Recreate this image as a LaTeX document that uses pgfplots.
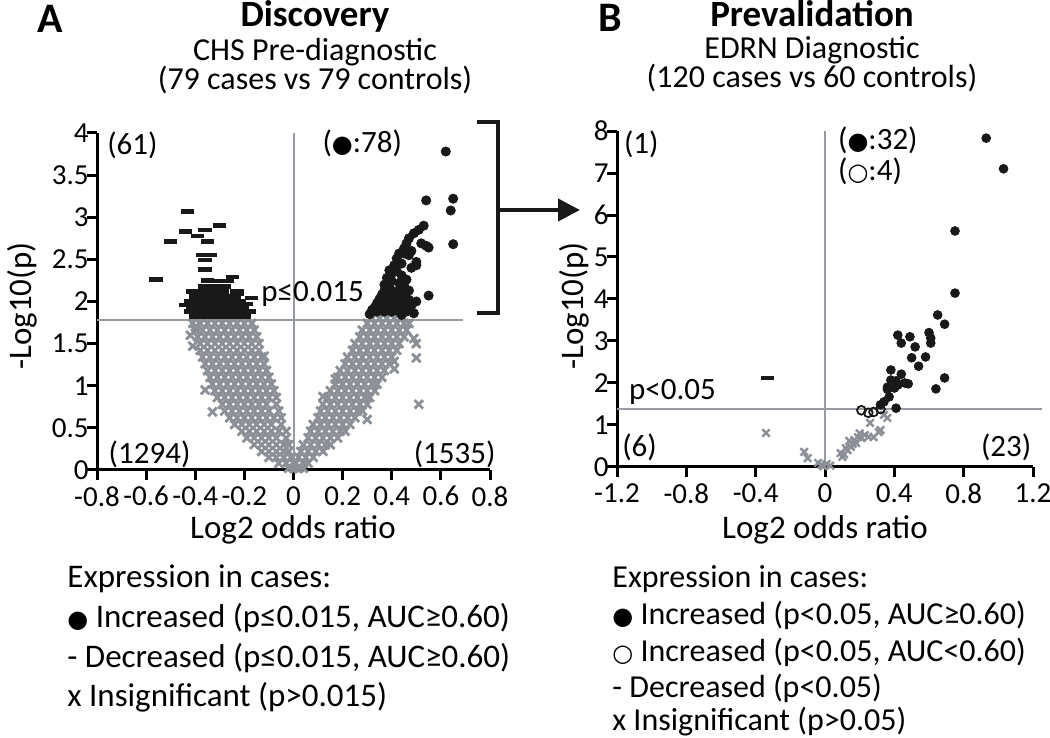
\documentclass[border=0pt]{standalone}
\usepackage{fontspec}
\setmainfont{Carlito}
\newfontfamily\sym{DejaVu Sans}
\usepackage{pgfplots}
\pgfplotsset{compat=1.18}
\usetikzlibrary{arrows.meta}
\definecolor{gmark}{RGB}{138,144,150}
\definecolor{gline}{RGB}{150,156,162}
\definecolor{dk}{RGB}{25,25,25}
\newcommand{\fs}[1]{\fontsize{#1}{#1}\selectfont}
\newcommand{\bdot}{{\sym\fontsize{12}{12}\selectfont ●}}
\newcommand{\wdot}{{\sym\fontsize{12}{12}\selectfont ○}}
\pgfplotsset{
 volc/.style={
  scale only axis, axis lines=left,
  axis line style={-, line width=1.5pt, black},
  tick align=outside, major tick length=5pt,
  tick style={line width=1.5pt, black},
  tick label style={font=\fs{14.5}},
  xticklabel style={inner sep=0.5pt, yshift=-2.5pt},
  yticklabel style={inner sep=0.5pt, xshift=1.5pt},
  clip=false, anchor=south west,
 },
 gx/.style={only marks, mark=x, mark size=3pt, gmark, mark options={line width=1.4pt}},
 bd/.style={only marks, mark=*, mark size=2.3pt, dk},
 bdash/.style={only marks, mark=-, mark size=3.3pt, dk, mark options={line width=2.2pt}},
}
\begin{document}
\begin{tikzpicture}
\path[use as bounding box] (0,0) rectangle (525pt,369pt);
% ---------------- Panel A ----------------
\begin{axis}[volc, at={(48.5pt,134pt)}, width=196.5pt, height=168.5pt,
 xmin=-0.8, xmax=0.8, ymin=0, ymax=4,
 xtick={-0.8,-0.6,-0.4,-0.2,0,0.2,0.4,0.6,0.8},
 xticklabels={-0.8,-0.6,-0.4,-0.2,0,0.2,0.4,0.6,0.8},
 ytick={0,0.5,1,1.5,2,2.5,3,3.5,4},
 yticklabels={0,0.5,1,1.5,2,2.5,3,3.5,4}]
\addplot[gline, line width=1pt] coordinates {(0,0) (0,4)};
\addplot[gline, line width=1pt] coordinates {(-0.8,1.78) (0.69,1.78)};
% insignificant, left
\addplot[gx] coordinates {
(0,0.02)(-0.02,0.02)(0.02,0.02)
(-0.06,0.08)(-0.03,0.08)(0,0.08)
(-0.10,0.15)(-0.07,0.15)(-0.04,0.15)(-0.01,0.15)
(-0.13,0.22)(-0.10,0.22)(-0.07,0.22)(-0.04,0.22)(-0.02,0.22)
(-0.16,0.30)(-0.13,0.30)(-0.10,0.30)(-0.07,0.30)(-0.04,0.30)(-0.02,0.30)
(-0.19,0.38)(-0.16,0.38)(-0.13,0.38)(-0.10,0.38)(-0.07,0.38)(-0.03,0.38)
(-0.21,0.46)(-0.18,0.46)(-0.15,0.46)(-0.12,0.46)(-0.09,0.46)(-0.06,0.46)(-0.03,0.46)
(-0.24,0.54)(-0.21,0.54)(-0.18,0.54)(-0.15,0.54)(-0.12,0.54)(-0.09,0.54)(-0.05,0.54)
(-0.26,0.62)(-0.23,0.62)(-0.20,0.62)(-0.17,0.62)(-0.14,0.62)(-0.11,0.62)(-0.08,0.62)(-0.05,0.62)
(-0.28,0.70)(-0.25,0.70)(-0.22,0.70)(-0.19,0.70)(-0.16,0.70)(-0.13,0.70)(-0.10,0.70)(-0.06,0.70)
(-0.29,0.78)(-0.26,0.78)(-0.23,0.78)(-0.20,0.78)(-0.17,0.78)(-0.14,0.78)(-0.11,0.78)(-0.07,0.78)
(-0.31,0.86)(-0.28,0.86)(-0.25,0.86)(-0.22,0.86)(-0.19,0.86)(-0.16,0.86)(-0.13,0.86)(-0.10,0.86)(-0.07,0.86)
(-0.32,0.94)(-0.29,0.94)(-0.26,0.94)(-0.23,0.94)(-0.20,0.94)(-0.17,0.94)(-0.14,0.94)(-0.11,0.94)(-0.08,0.94)
(-0.33,1.02)(-0.30,1.02)(-0.27,1.02)(-0.24,1.02)(-0.21,1.02)(-0.18,1.02)(-0.15,1.02)(-0.12,1.02)(-0.09,1.02)
(-0.34,1.10)(-0.31,1.10)(-0.28,1.10)(-0.25,1.10)(-0.22,1.10)(-0.19,1.10)(-0.16,1.10)(-0.13,1.10)(-0.10,1.10)
(-0.35,1.18)(-0.32,1.18)(-0.29,1.18)(-0.26,1.18)(-0.23,1.18)(-0.20,1.18)(-0.17,1.18)(-0.14,1.18)(-0.11,1.18)
(-0.36,1.26)(-0.33,1.26)(-0.30,1.26)(-0.27,1.26)(-0.24,1.26)(-0.21,1.26)(-0.18,1.26)(-0.15,1.26)(-0.12,1.26)
(-0.37,1.34)(-0.34,1.34)(-0.31,1.34)(-0.28,1.34)(-0.25,1.34)(-0.22,1.34)(-0.19,1.34)(-0.16,1.34)(-0.13,1.34)
(-0.38,1.42)(-0.35,1.42)(-0.32,1.42)(-0.29,1.42)(-0.26,1.42)(-0.23,1.42)(-0.20,1.42)(-0.17,1.42)(-0.14,1.42)
(-0.38,1.50)(-0.35,1.50)(-0.32,1.50)(-0.29,1.50)(-0.26,1.50)(-0.23,1.50)(-0.20,1.50)(-0.17,1.50)(-0.14,1.50)
(-0.39,1.58)(-0.36,1.58)(-0.33,1.58)(-0.30,1.58)(-0.27,1.58)(-0.24,1.58)(-0.21,1.58)(-0.18,1.58)(-0.15,1.58)
(-0.40,1.66)(-0.37,1.66)(-0.34,1.66)(-0.31,1.66)(-0.28,1.66)(-0.25,1.66)(-0.22,1.66)(-0.19,1.66)(-0.16,1.66)
(-0.41,1.74)(-0.38,1.74)(-0.35,1.74)(-0.32,1.74)(-0.29,1.74)(-0.26,1.74)(-0.23,1.74)(-0.20,1.74)(-0.17,1.74)
(-0.41,1.47)(-0.40,1.70)(-0.33,0.69)(-0.12,1.35)(-0.36,0.95)(-0.42,1.60)
};
% insignificant, right
\addplot[gx] coordinates {
(0.02,0.02)(0.04,0.02)
(0.01,0.08)(0.04,0.08)(0.06,0.08)
(0.02,0.15)(0.05,0.15)(0.08,0.15)
(0.03,0.22)(0.06,0.22)(0.09,0.22)(0.12,0.22)
(0.04,0.30)(0.07,0.30)(0.10,0.30)(0.13,0.30)(0.15,0.30)
(0.06,0.38)(0.09,0.38)(0.12,0.38)(0.15,0.38)(0.18,0.38)
(0.07,0.46)(0.10,0.46)(0.13,0.46)(0.16,0.46)(0.19,0.46)(0.21,0.46)
(0.08,0.54)(0.11,0.54)(0.14,0.54)(0.17,0.54)(0.20,0.54)(0.23,0.54)
(0.10,0.62)(0.13,0.62)(0.16,0.62)(0.19,0.62)(0.22,0.62)(0.25,0.62)
(0.11,0.70)(0.14,0.70)(0.17,0.70)(0.20,0.70)(0.23,0.70)(0.26,0.70)(0.28,0.70)
(0.12,0.78)(0.15,0.78)(0.18,0.78)(0.21,0.78)(0.24,0.78)(0.27,0.78)(0.30,0.78)
(0.14,0.86)(0.17,0.86)(0.20,0.86)(0.23,0.86)(0.26,0.86)(0.29,0.86)(0.31,0.86)
(0.15,0.94)(0.18,0.94)(0.21,0.94)(0.24,0.94)(0.27,0.94)(0.30,0.94)(0.33,0.94)
(0.17,1.02)(0.20,1.02)(0.23,1.02)(0.26,1.02)(0.29,1.02)(0.32,1.02)(0.34,1.02)
(0.18,1.10)(0.21,1.10)(0.24,1.10)(0.27,1.10)(0.30,1.10)(0.33,1.10)(0.36,1.10)
(0.19,1.18)(0.22,1.18)(0.25,1.18)(0.28,1.18)(0.31,1.18)(0.34,1.18)(0.37,1.18)
(0.21,1.26)(0.24,1.26)(0.27,1.26)(0.30,1.26)(0.33,1.26)(0.36,1.26)(0.39,1.26)
(0.22,1.34)(0.25,1.34)(0.28,1.34)(0.31,1.34)(0.34,1.34)(0.37,1.34)(0.40,1.34)
(0.24,1.42)(0.27,1.42)(0.30,1.42)(0.33,1.42)(0.36,1.42)(0.39,1.42)(0.42,1.42)
(0.25,1.50)(0.28,1.50)(0.31,1.50)(0.34,1.50)(0.37,1.50)(0.40,1.50)(0.43,1.50)
(0.27,1.58)(0.30,1.58)(0.33,1.58)(0.36,1.58)(0.39,1.58)(0.42,1.58)(0.45,1.58)
(0.28,1.66)(0.31,1.66)(0.34,1.66)(0.37,1.66)(0.40,1.66)(0.43,1.66)(0.46,1.66)
(0.30,1.74)(0.33,1.74)(0.36,1.74)(0.39,1.74)(0.42,1.74)(0.45,1.74)(0.47,1.74)
(0.32,1.80)(0.35,1.80)(0.38,1.80)(0.41,1.80)(0.44,1.80)
(0.12,0.87)(0.17,1.08)(0.49,1.56)(0.50,1.50)(0.50,1.33)(0.41,1.29)(0.41,1.20)(0.51,0.78)(0.30,0.60)
};
% decreased (dashes)
\addplot[bdash] coordinates {
(-0.43,3.07)(-0.44,2.83)(-0.50,2.71)(-0.36,2.85)(-0.30,2.90)(-0.39,2.78)(-0.35,2.71)
(-0.37,2.55)(-0.34,2.55)(-0.36,2.49)(-0.36,2.38)(-0.56,2.26)(-0.35,2.25)(-0.31,2.24)
(-0.25,2.29)(-0.27,2.24)(-0.23,2.12)(-0.17,2.04)(-0.41,2.12)
(-0.40,1.82)(-0.36,1.82)(-0.32,1.82)(-0.28,1.82)(-0.24,1.82)(-0.20,1.82)
(-0.42,1.88)(-0.38,1.88)(-0.34,1.88)(-0.30,1.88)(-0.26,1.88)(-0.22,1.88)(-0.18,1.88)
(-0.41,1.94)(-0.37,1.94)(-0.33,1.94)(-0.29,1.94)(-0.25,1.94)(-0.21,1.94)
(-0.42,2.00)(-0.38,2.00)(-0.34,2.00)(-0.30,2.00)(-0.26,2.00)(-0.22,2.00)
(-0.40,2.06)(-0.36,2.06)(-0.32,2.06)(-0.28,2.06)(-0.24,2.06)
(-0.37,2.12)(-0.33,2.12)(-0.29,2.12)
(-0.36,2.18)(-0.32,2.18)(-0.28,2.18)
(-0.35,1.85)(-0.27,1.91)(-0.31,2.03)(-0.19,1.97)(-0.44,1.96)(-0.23,2.09)
};
% increased (dots)
\addplot[bd] coordinates {
(0.62,3.78)(0.54,3.20)(0.65,3.22)(0.64,3.08)(0.65,2.68)(0.53,2.90)
(0.51,2.85)(0.49,2.81)(0.47,2.75)(0.46,2.69)(0.45,2.63)(0.43,2.57)(0.42,2.51)
(0.54,2.66)(0.55,2.64)(0.52,2.69)(0.47,2.55)(0.45,2.57)(0.50,2.43)(0.50,2.47)
(0.41,2.43)(0.39,2.37)(0.42,2.36)(0.44,2.31)(0.38,2.28)(0.40,2.24)(0.43,2.22)
(0.45,2.19)(0.47,2.13)(0.55,2.07)(0.38,2.12)(0.39,2.16)(0.49,1.86)
(0.34,1.88)(0.37,1.88)(0.40,1.88)(0.43,1.88)(0.46,1.88)
(0.33,1.93)(0.36,1.93)(0.39,1.93)(0.42,1.93)(0.45,1.93)
(0.34,1.98)(0.37,1.98)(0.40,1.98)(0.43,1.98)(0.46,1.98)
(0.35,2.03)(0.38,2.03)(0.41,2.03)(0.44,2.03)
(0.36,2.08)(0.39,2.08)(0.42,2.08)(0.45,2.08)
(0.37,2.13)(0.40,2.13)(0.43,2.13)
(0.48,2.40)(0.40,2.33)(0.44,2.45)(0.48,2.60)(0.32,1.90)(0.31,1.85)
(0.44,1.84)(0.47,2.02)(0.48,1.95)(0.50,2.00)(0.37,2.20)(0.46,2.26)
};
\node[anchor=base, font=\fs{15.5}] at (axis cs:-0.656,3.75) {(61)};
\node[anchor=base, font=\fs{15.5}] at (axis cs:0.28,3.77) {(\bdot:78)};
\node[anchor=base, font=\fs{15.5}] at (axis cs:-0.586,0.08) {(1294)};
\node[anchor=base, font=\fs{15.5}] at (axis cs:0.656,0.08) {(1535)};
\node[anchor=base, font=\fs{15.5}] at (axis cs:0.078,2.0) {p≤0.015};
\end{axis}
% ---------------- Panel B ----------------
\begin{axis}[volc, at={(308.5pt,135.5pt)}, width=208pt, height=168pt,
 xmin=-1.2, xmax=1.2, ymin=0, ymax=8,
 xtick={-1.2,-0.8,-0.4,0,0.4,0.8,1.2},
 xticklabels={-1.2,-0.8,-0.4,0,0.4,0.8,1.2},
 ytick={0,1,2,3,4,5,6,7,8},
 yticklabels={0,1,2,3,4,5,6,7,8}]
\addplot[gline, line width=1pt] coordinates {(0,0) (0,8)};
\addplot[gline, line width=1pt] coordinates {(-1.2,1.38) (1.25,1.38)};
\addplot[gx, mark size=2.6pt, mark options={line width=1.2pt}] coordinates {
(-0.34,0.81)(-0.12,0.36)(-0.10,0.21)(-0.04,0.10)(-0.02,0.05)(-0.01,0.02)
(0.01,0.07)(0.09,0.33)(0.10,0.24)(0.13,0.40)(0.15,0.48)(0.17,0.64)(0.19,0.71)
(0.21,0.69)(0.18,0.57)(0.23,0.76)(0.26,1.05)(0.28,0.71)(0.31,0.83)(0.32,0.88)
(0.36,1.17)(0.34,1.24)(0.12,0.45)(0.16,0.55)(0.20,0.80)(0.03,0.03)(0.11,0.30)
(0.14,0.62)(0.25,0.72)
};
\addplot[bdash] coordinates {(-0.33,2.12)};
\addplot[only marks, mark=o, mark size=2.2pt, dk, mark options={line width=0.9pt, fill=white}] coordinates {
(0.21,1.35)(0.25,1.29)(0.28,1.31)(0.32,1.38)
};
\addplot[bd, mark size=2.2pt] coordinates {
(0.93,7.83)(1.03,7.10)(0.75,5.62)(0.75,4.14)(0.65,3.62)(0.69,3.40)(0.42,3.14)
(0.44,2.95)(0.49,3.10)(0.52,2.86)(0.60,3.20)(0.61,3.07)(0.61,2.95)(0.50,2.60)
(0.54,2.40)(0.58,2.62)(0.38,2.31)(0.44,2.21)(0.69,2.12)(0.64,1.86)(0.38,2.07)
(0.41,2.05)(0.46,2.00)(0.48,1.98)(0.36,1.90)(0.36,1.85)(0.40,1.88)(0.42,1.95)
(0.37,1.67)(0.34,1.55)(0.32,1.48)(0.41,1.40)
};
\node[anchor=base, font=\fs{15.5}] at (axis cs:-1.06,7.47) {(1)};
\node[anchor=base west, font=\fs{15.5}] at (axis cs:0.035,7.55) {(\bdot:32)};
\node[anchor=base west, font=\fs{15.5}] at (axis cs:0.035,6.83) {(\wdot:4)};
\node[anchor=base, font=\fs{15.5}] at (axis cs:-0.88,1.6) {p<0.05};
\node[anchor=base, font=\fs{15.5}] at (axis cs:-1.07,0.24) {(6)};
\node[anchor=base, font=\fs{15.5}] at (axis cs:1.045,0.24) {(23)};
\end{axis}
% ---------------- titles and labels ----------------
\node[anchor=base, font=\fs{21}\bfseries] at (25pt,352.5pt) {A};
\node[anchor=base, font=\fs{18.5}\bfseries] at (157.5pt,355.5pt) {Discovery};
\node[anchor=base, font=\fs{16}, inner sep=0pt] at (157.5pt,338.5pt) {CHS Pre-diagnostic};
\node[anchor=base, font=\fs{16}, inner sep=0pt] at (157.5pt,324pt) {(79 cases vs 79 controls)};
\node[anchor=base, font=\fs{21}\bfseries] at (305pt,353pt) {B};
\node[anchor=base, font=\fs{18.5}\bfseries] at (406pt,355.5pt) {Prevalidation};
\node[anchor=base, font=\fs{16}, inner sep=0pt] at (406pt,339.5pt) {EDRN Diagnostic};
\node[anchor=base, font=\fs{16}, inner sep=0pt] at (406pt,325pt) {(120 cases vs 60 controls)};
\node[rotate=90, font=\fs{16.5}] at (11pt,216pt) {-Log10(p)};
\node[rotate=90, font=\fs{16.5}] at (287pt,216pt) {-Log10(p)};
\node[anchor=base, font=\fs{16.5}, inner sep=0pt] at (146.5pt,99.5pt) {Log2 odds ratio};
\node[anchor=base, font=\fs{16.5}, inner sep=0pt] at (412.5pt,99.5pt) {Log2 odds ratio};
% bracket and arrow
\draw[line width=2pt, dk, line join=miter] (238.5pt,308pt) -- (249pt,308pt) -- (249pt,212.5pt) -- (238.5pt,212.5pt);
\draw[line width=2pt, dk, -{Triangle[length=11pt,width=11pt]}] (249pt,264pt) -- (290pt,264pt);
% legends
\begin{scope}[every node/.style={anchor=base west, font=\fs{16.5}, inner sep=0pt}]
\node at (33.5pt,75pt) {Expression in cases:};
\node at (33.5pt,55pt) {\bdot{} Increased (p≤0.015, AUC≥0.60)};
\node at (33.5pt,35pt) {- Decreased (p≤0.015, AUC≥0.60)};
\node at (33.5pt,15.5pt) {x Insignificant (p>0.015)};
\end{scope}
\begin{scope}[every node/.style={anchor=base west, font=\fs{16}, inner sep=0pt}]
\node at (306pt,75pt) {Expression in cases:};
\node at (306pt,56.5pt) {\bdot{} Increased (p<0.05, AUC≥0.60)};
\node at (306pt,38pt) {\wdot{} Increased (p<0.05, AUC<0.60)};
\node at (306pt,20pt) {- Decreased (p<0.05)};
\node at (306pt,3.5pt) {x Insignificant (p>0.05)};
\end{scope}
\end{tikzpicture}
\end{document}
